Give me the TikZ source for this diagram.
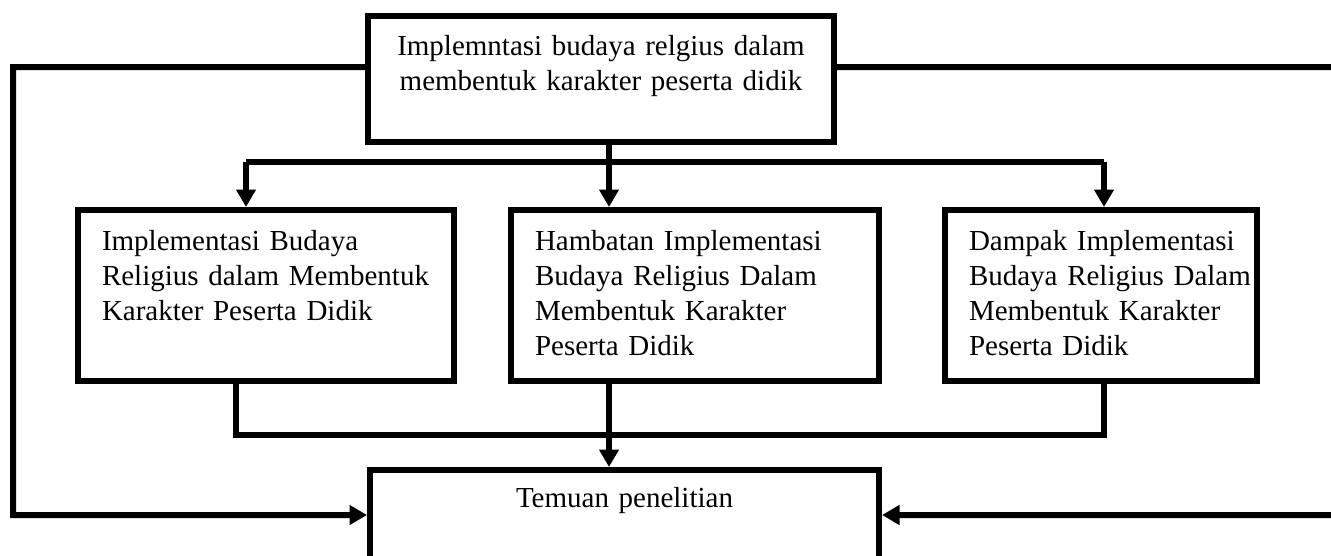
\documentclass[tikz,border=0pt]{standalone}
\usepackage{fontspec}
\setmainfont{Liberation Serif}
\usetikzlibrary{arrows.meta}

\begin{document}
\begin{tikzpicture}[x=0.4pt,y=-0.4pt,
  box/.style={draw,line width=2.4pt,anchor=north west,
    font=\fontsize{11.6}{14}\selectfont,inner xsep=9.6pt,text height=8pt},
  flow/.style={line width=2.4pt},
  arrow/.style={flow,-{Triangle[length=7pt,width=7.6pt]}}]
  \useasboundingbox (0,0) rectangle (1331,555);
  \clip (0,0) rectangle (1331,555);

  % boxes
  \node[box,align=center,text width=167.2pt,inner ysep=7.6pt,text depth=27.2pt]
    (tema) at (365,13)
    {Implemntasi budaya relgius dalam\\membentuk karakter peserta didik};
  \node[box,text width=131.2pt,inner ysep=8pt,text depth=44.4pt]
    (implementasi) at (75,207)
    {\begin{tabular}[t]{@{}l@{}}
      Implementasi Budaya\\
      Religius dalam Membentuk\\
      Karakter Peserta Didik
    \end{tabular}};
  \node[box,text width=128pt,inner ysep=8pt,text depth=44.4pt]
    (hambatan) at (508,207)
    {\begin{tabular}[t]{@{}l@{}}
      Hambatan Implementasi\\
      Budaya Religius Dalam\\
      Membentuk Karakter\\
      Peserta Didik
    \end{tabular}};
  \node[box,text width=105.6pt,inner ysep=8pt,text depth=44.4pt]
    (dampak) at (942,207)
    {\begin{tabular}[t]{@{}l@{}}
      Dampak Implementasi\\
      Budaya Religius Dalam\\
      Membentuk Karakter\\
      Peserta Didik
    \end{tabular}};
  \node[box,align=center,text width=184.4pt,inner ysep=6.8pt,text depth=36.8pt]
    (temuan) at (367,467)
    {Temuan penelitian};

  % turning points
  \coordinate (kiriatas) at (13,67);
  \coordinate (kiribawah) at (13,515);
  \coordinate (kananatas) at (1345,67);
  \coordinate (kananbawah) at (1345,515);
  \coordinate (cabangkiri) at (246,162);
  \coordinate (cabangtengah) at (609,162);
  \coordinate (cabangkanan) at (1104,162);
  \coordinate (gabungkiri) at (236,435);
  \coordinate (gabungkanan) at (1104,435);

  % outer loops
  \draw[arrow] ([yshift=4.8pt]tema.west) -- (kiriatas) -- (kiribawah)
    -- (kiribawah -| temuan.west);
  \draw[arrow] ([yshift=4.8pt]tema.east) -- (kananatas) -- (kananbawah)
    -- (kananbawah -| temuan.east);

  % split
  \draw[flow] (cabangtengah |- tema.south) -- (cabangtengah);
  \draw[flow] (cabangkiri) -- (cabangkanan);
  \draw[arrow] (cabangkiri) -- (cabangkiri |- implementasi.north);
  \draw[arrow] (cabangtengah) -- (cabangtengah |- hambatan.north);
  \draw[arrow] (cabangkanan) -- (cabangkanan |- dampak.north);

  % join
  \draw[flow] (gabungkiri |- implementasi.south) -- (gabungkiri) -- (gabungkanan)
    -- (gabungkanan |- dampak.south);
  \draw[arrow] (cabangtengah |- hambatan.south) -- (cabangtengah |- temuan.north);
\end{tikzpicture}
\end{document}
